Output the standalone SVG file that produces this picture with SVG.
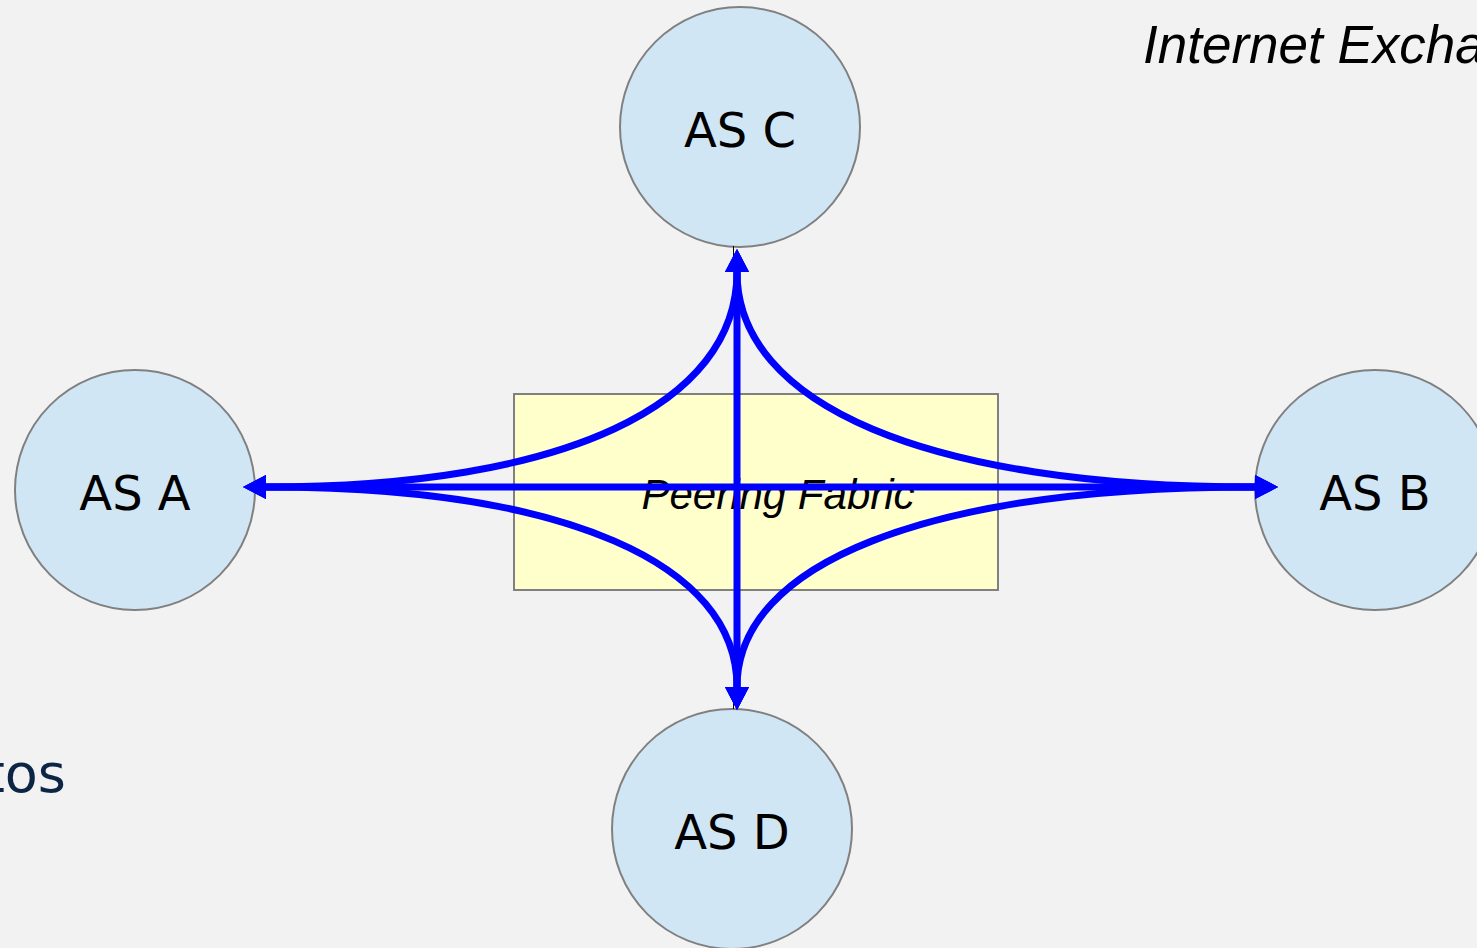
<svg xmlns="http://www.w3.org/2000/svg" width="1477" height="948" viewBox="0 0 1477 948">
<style>
.as{fill:#d0e6f4;stroke:#808080;stroke-width:2}
.lbl{font-family:"DejaVu Sans",sans-serif;font-size:48px;fill:#000;text-anchor:middle}
.c{fill:none;stroke:#0000ff;stroke-width:7;marker-start:url(#ah);marker-end:url(#ah)}
.thin{stroke:#000;stroke-width:1}
</style>
<defs>
<marker id="ah" markerUnits="userSpaceOnUse" markerWidth="24" markerHeight="26" refX="0" refY="12" orient="auto-start-reverse" overflow="visible">
<path d="M0,0 L23,12 L0,24 z" fill="#0000ff"/>
</marker>
</defs>
<rect x="0" y="0" width="1477" height="948" fill="#f2f2f2"/>
<text x="1143" y="63" font-family="Liberation Sans, sans-serif" font-style="italic" font-size="53" fill="#000">Internet Exchange</text>
<text x="66" y="792" font-family="DejaVu Sans, sans-serif" font-size="54" fill="#0b2545" text-anchor="end">tos</text>
<g id="fabric">
<rect x="514" y="394" width="484" height="196" fill="#ffffcc" stroke="#808080" stroke-width="2"/>
<text x="778" y="509" font-family="Liberation Sans, sans-serif" font-style="italic" font-size="42" fill="#000" text-anchor="middle">Peering Fabric</text>
</g>
<g id="asA"><circle class="as" cx="135" cy="490" r="120"/><text class="lbl" x="135" y="510">AS A</text></g>
<g id="asB"><circle class="as" cx="1375" cy="490" r="120"/><text class="lbl" x="1375" y="510">AS B</text></g>
<g id="asC"><circle class="as" cx="740" cy="127" r="120"/><text class="lbl" x="740" y="147">AS C</text></g>
<g id="asD"><circle class="as" cx="732" cy="829" r="120"/><text class="lbl" x="732" y="849">AS D</text></g>
<g id="connectors">
<line class="thin" x1="733.5" y1="246" x2="733.5" y2="258"/>
<line class="thin" x1="733.5" y1="698" x2="733.5" y2="709"/>
<path class="c" d="M266,487 L1255,487"/>
<path class="c" d="M737,272 L737,687"/>
<path class="c" d="M266,487 C566,487 737,404 737,272"/>
<path class="c" d="M1255,487 C925,487 737,404 737,272"/>
<path class="c" d="M1255,487 C925,487 737,564 737,687"/>
<path class="c" d="M266,487 C566,487 737,564 737,687"/>
</g>
</svg>
